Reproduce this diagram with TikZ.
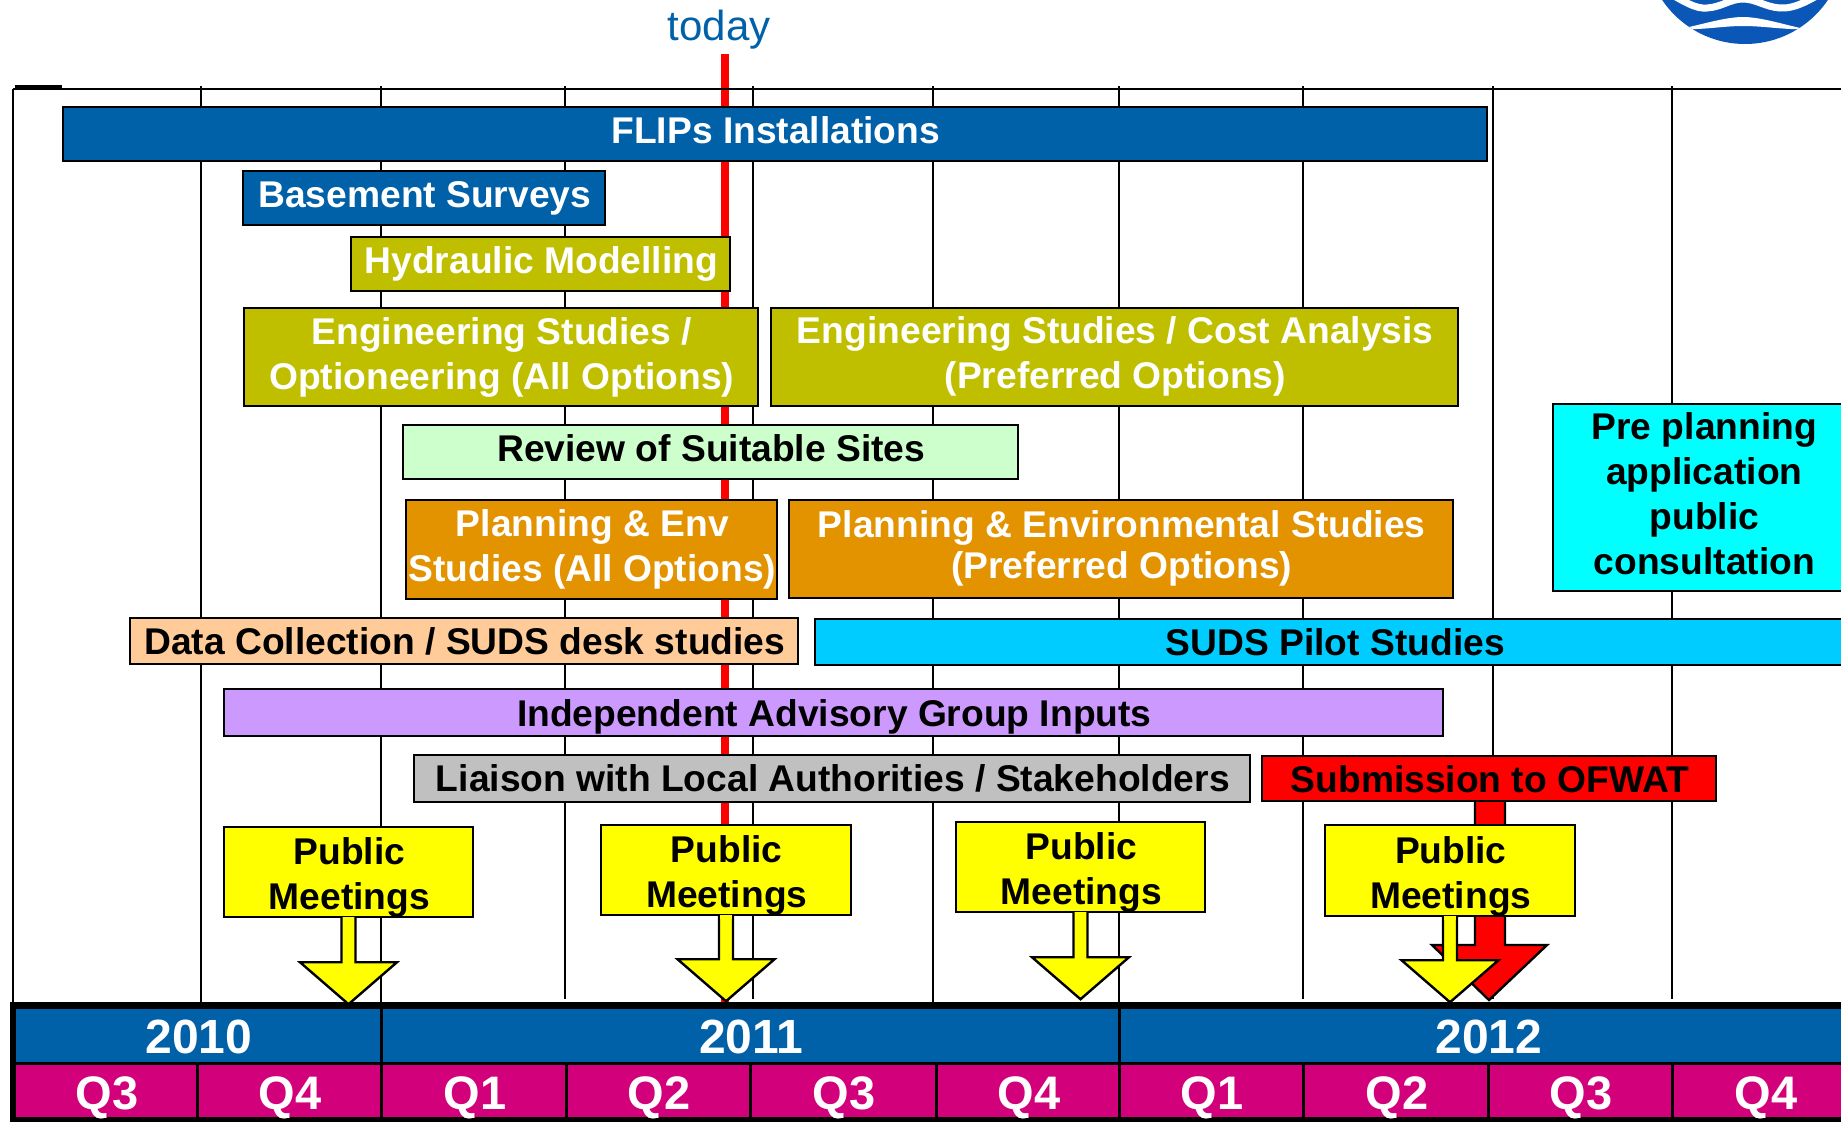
\documentclass[tikz,border=0pt]{standalone}
\usepackage{fontspec}
\setmainfont{Liberation Sans}
\usetikzlibrary{calc}
\definecolor{cblue}{HTML}{0060A8}
\definecolor{colive}{HTML}{BFBF00}
\definecolor{cmint}{HTML}{CCFFCC}
\definecolor{corange}{HTML}{E39200}
\definecolor{cpeach}{HTML}{FFCC99}
\definecolor{csky}{HTML}{00CCFF}
\definecolor{cpurple}{HTML}{CC99FF}
\definecolor{cgray}{HTML}{C0C0C0}
\definecolor{cmag}{HTML}{D2007A}
\definecolor{cteal}{HTML}{00FFFF}
\definecolor{clogo}{HTML}{0B57B8}
\definecolor{cyel}{HTML}{FFFF00}
\definecolor{cred}{HTML}{FF0000}
\tikzset{
  x=1pt,y=-1pt,
  barbox/.style={draw=black,line width=2.4pt,inner sep=0pt,align=center,font=\fontsize{37.2}{45}\selectfont\bfseries},
  lighttext/.style={text=white},
  darktext/.style={text=black},
  gridline/.style={draw=black,line width=2.4pt},
  gridheavy/.style={draw=black,line width=2.9pt},
  cellbox/.style={inner sep=0pt,align=center,text=white,font=\fontsize{47}{50}\selectfont\bfseries},
  meetarrow/.style={draw=black,line width=2.4pt,fill=cyel,line join=miter},
  subarrow/.style={draw=black,line width=2.4pt,fill=cred},
}
% [style]{name}{x1}{y1}{x2}{y2}{text offset}{text}
\newcommand{\bx}[8][]{%
  \pgfmathsetmacro{\bxw}{#5-#3}\pgfmathsetmacro{\bxh}{#6-#4}%
  \node[#1,minimum width=\bxw pt,minimum height=\bxh pt] (#2) at ({(#3+#5)/2},{(#4+#6)/2}) {};
  \node[#1,draw=none,fill=none] (#2-text) at ($(#2.center)+(0.8,#7)$) {#8};}
\newcommand{\meet}[6]{%
  % name, x1,y1,x2,y2, tip y
  \bx[barbox,fill=cyel,darktext]{#1}{#2}{#3}{#4}{#5}{5.5}{Public\\Meetings}
  \draw[meetarrow] ($(#1.south)+(-7,-1)$) -- ($(#1.south)+(-7,0)$) |- ($(#1.south)+(-48.5,#6-42-#5)$)
    -- ($(#1.south)+(0,#6-#5)$) -- ($(#1.south)+(48.5,#6-42-#5)$) -| ($(#1.south)+(7,-1)$);
  \fill[cyel] ($(#1.south)+(-5.8,-1.2)$) rectangle ($(#1.south)+(5.8,3)$);}
\begin{document}
\begin{tikzpicture}
\useasboundingbox (0,0) rectangle (1841,1122);
\clip (0,0) rectangle (1841,1122);
% logo
\begin{scope}
  \clip (1745,-56) circle[radius=100];
  \fill[clogo] (1640,-10) rectangle (1850,50);
  \draw[white,line width=7pt] (1660,-12) .. controls (1685,2) and (1695,9) .. (1707,8) .. controls (1722,7) and (1730,-1) .. (1743,-1) .. controls (1756,-1) and (1765,7) .. (1780,8) .. controls (1795,9) and (1810,0) .. (1830,-12);
  \fill[white] (1680,29) .. controls (1700,25) and (1725,17) .. (1743,17) .. controls (1761,17) and (1785,25) .. (1805,29) .. controls (1785,30) and (1765,26) .. (1743,26) .. controls (1722,26) and (1705,30) .. (1680,29) -- cycle;
\end{scope}
\node[inner sep=0pt,text=cblue,font=\fontsize{42}{44}\selectfont] (today) at (719,29.5) {today};
% today line
\draw[cred,line width=7.5pt] (725,54) -- (725,1002);
% frame and grid
\draw[gridline] (13,89) -- (1841,89);
\draw[gridline] (13,89) -- (13,1004);
\fill[black] (15,85) rectangle (62,90);
\foreach \gx/\gb in {201/1004,381/1004,565/999,753/999,1493/999,1672/999}
  \draw[gridline] (\gx,86) -- (\gx,\gb);
\foreach \gx/\gb in {933/1004,1119/1004,1303/999}
  \draw[gridheavy] (\gx,86) -- (\gx,\gb);
% timeline band
\fill[black] (10,1002) rectangle (1841,1122);
\foreach \cn/\ca/\cb/\ct in {ya/16/380/2010,yb/383/1118/2011,yc/1121/1855/2012}
  \bx[cellbox,fill=cblue,font=\fontsize{48}{50}\selectfont\bfseries]{\cn}{\ca}{1009}{\cb}{1062}{1}{\ct}
\foreach \cn/\ca/\cb/\ct in {qa/16/196/Q3,qb/199/380/Q4,qc/383/565/Q1,qd/568/749/Q2,qe/752/935/Q3,qf/938/1118/Q4,qg/1121/1302/Q1,qh/1305/1487/Q2,qi/1490/1671/Q3,qj/1674/1856/Q4}
  \bx[cellbox,fill=cmag]{\cn}{\ca}{1065}{\cb}{1117}{7}{\ct}
% bars
\bx[barbox,fill=cblue,lighttext]{flips}{63}{107}{1487}{161}{-4}{FLIPs Installations}
\bx[barbox,fill=cblue,lighttext]{base}{243}{171}{605}{225}{0}{Basement Surveys}
\bx[barbox,fill=colive,lighttext]{hyd}{351}{237}{730}{291}{0}{Hydraulic Modelling}
\bx[barbox,fill=colive,lighttext]{enga}{244}{308}{758}{406}{0}{Engineering Studies /\\Optioneering (All Options)}
\bx[barbox,fill=colive,lighttext]{engb}{771}{308}{1458}{406}{-1}{Engineering Studies / Cost Analysis\\(Preferred Options)}
\bx[barbox,fill=cmint,darktext]{review}{403}{425}{1018}{479}{-3.5}{Review of Suitable Sites}
\bx[barbox,fill=corange,lighttext]{plana}{406}{500}{777}{599}{0}{Planning \& Env\\Studies (All Options)}
\bx[barbox,fill=corange,lighttext]{planb}{789}{500}{1453}{598}{-1}{Planning \& Environmental Studies\\[-4pt](Preferred Options)}
\bx[barbox,fill=cpeach,darktext]{data}{130}{618}{798}{664}{0}{Data Collection / SUDS desk studies}
\bx[barbox,fill=csky,darktext]{suds}{815}{619}{1854}{665}{0}{SUDS Pilot Studies}
\bx[barbox,fill=cteal,darktext]{pre}{1553}{404}{1854}{591}{-3.5}{Pre planning\\application\\public\\consultation}
\bx[barbox,fill=cpurple,darktext]{iag}{224}{689}{1443}{736}{4.7}{Independent Advisory Group Inputs}
\bx[barbox,fill=cgray,darktext]{liaison}{414}{755}{1250}{802}{0}{Liaison with Local Authorities / Stakeholders}
% submission with its arrow
\coordinate (subtip) at (1489,1000);
\draw[subarrow] (1475,790) -- (1475,945) -- (1432,945) -- (subtip) -- (1547,945) -- (1505,945) -- (1505,790) -- cycle;
\bx[barbox,fill=cred,darktext]{sub}{1262}{756}{1716}{801}{1}{Submission to OFWAT}
% public meetings
\meet{pma}{224}{827}{473}{917}{1003}
\meet{pmb}{601}{825}{851}{915}{1000}
\meet{pmc}{956}{822}{1205}{912}{998}
\meet{pmd}{1325}{825}{1575}{916}{1001}
\end{tikzpicture}
\end{document}
